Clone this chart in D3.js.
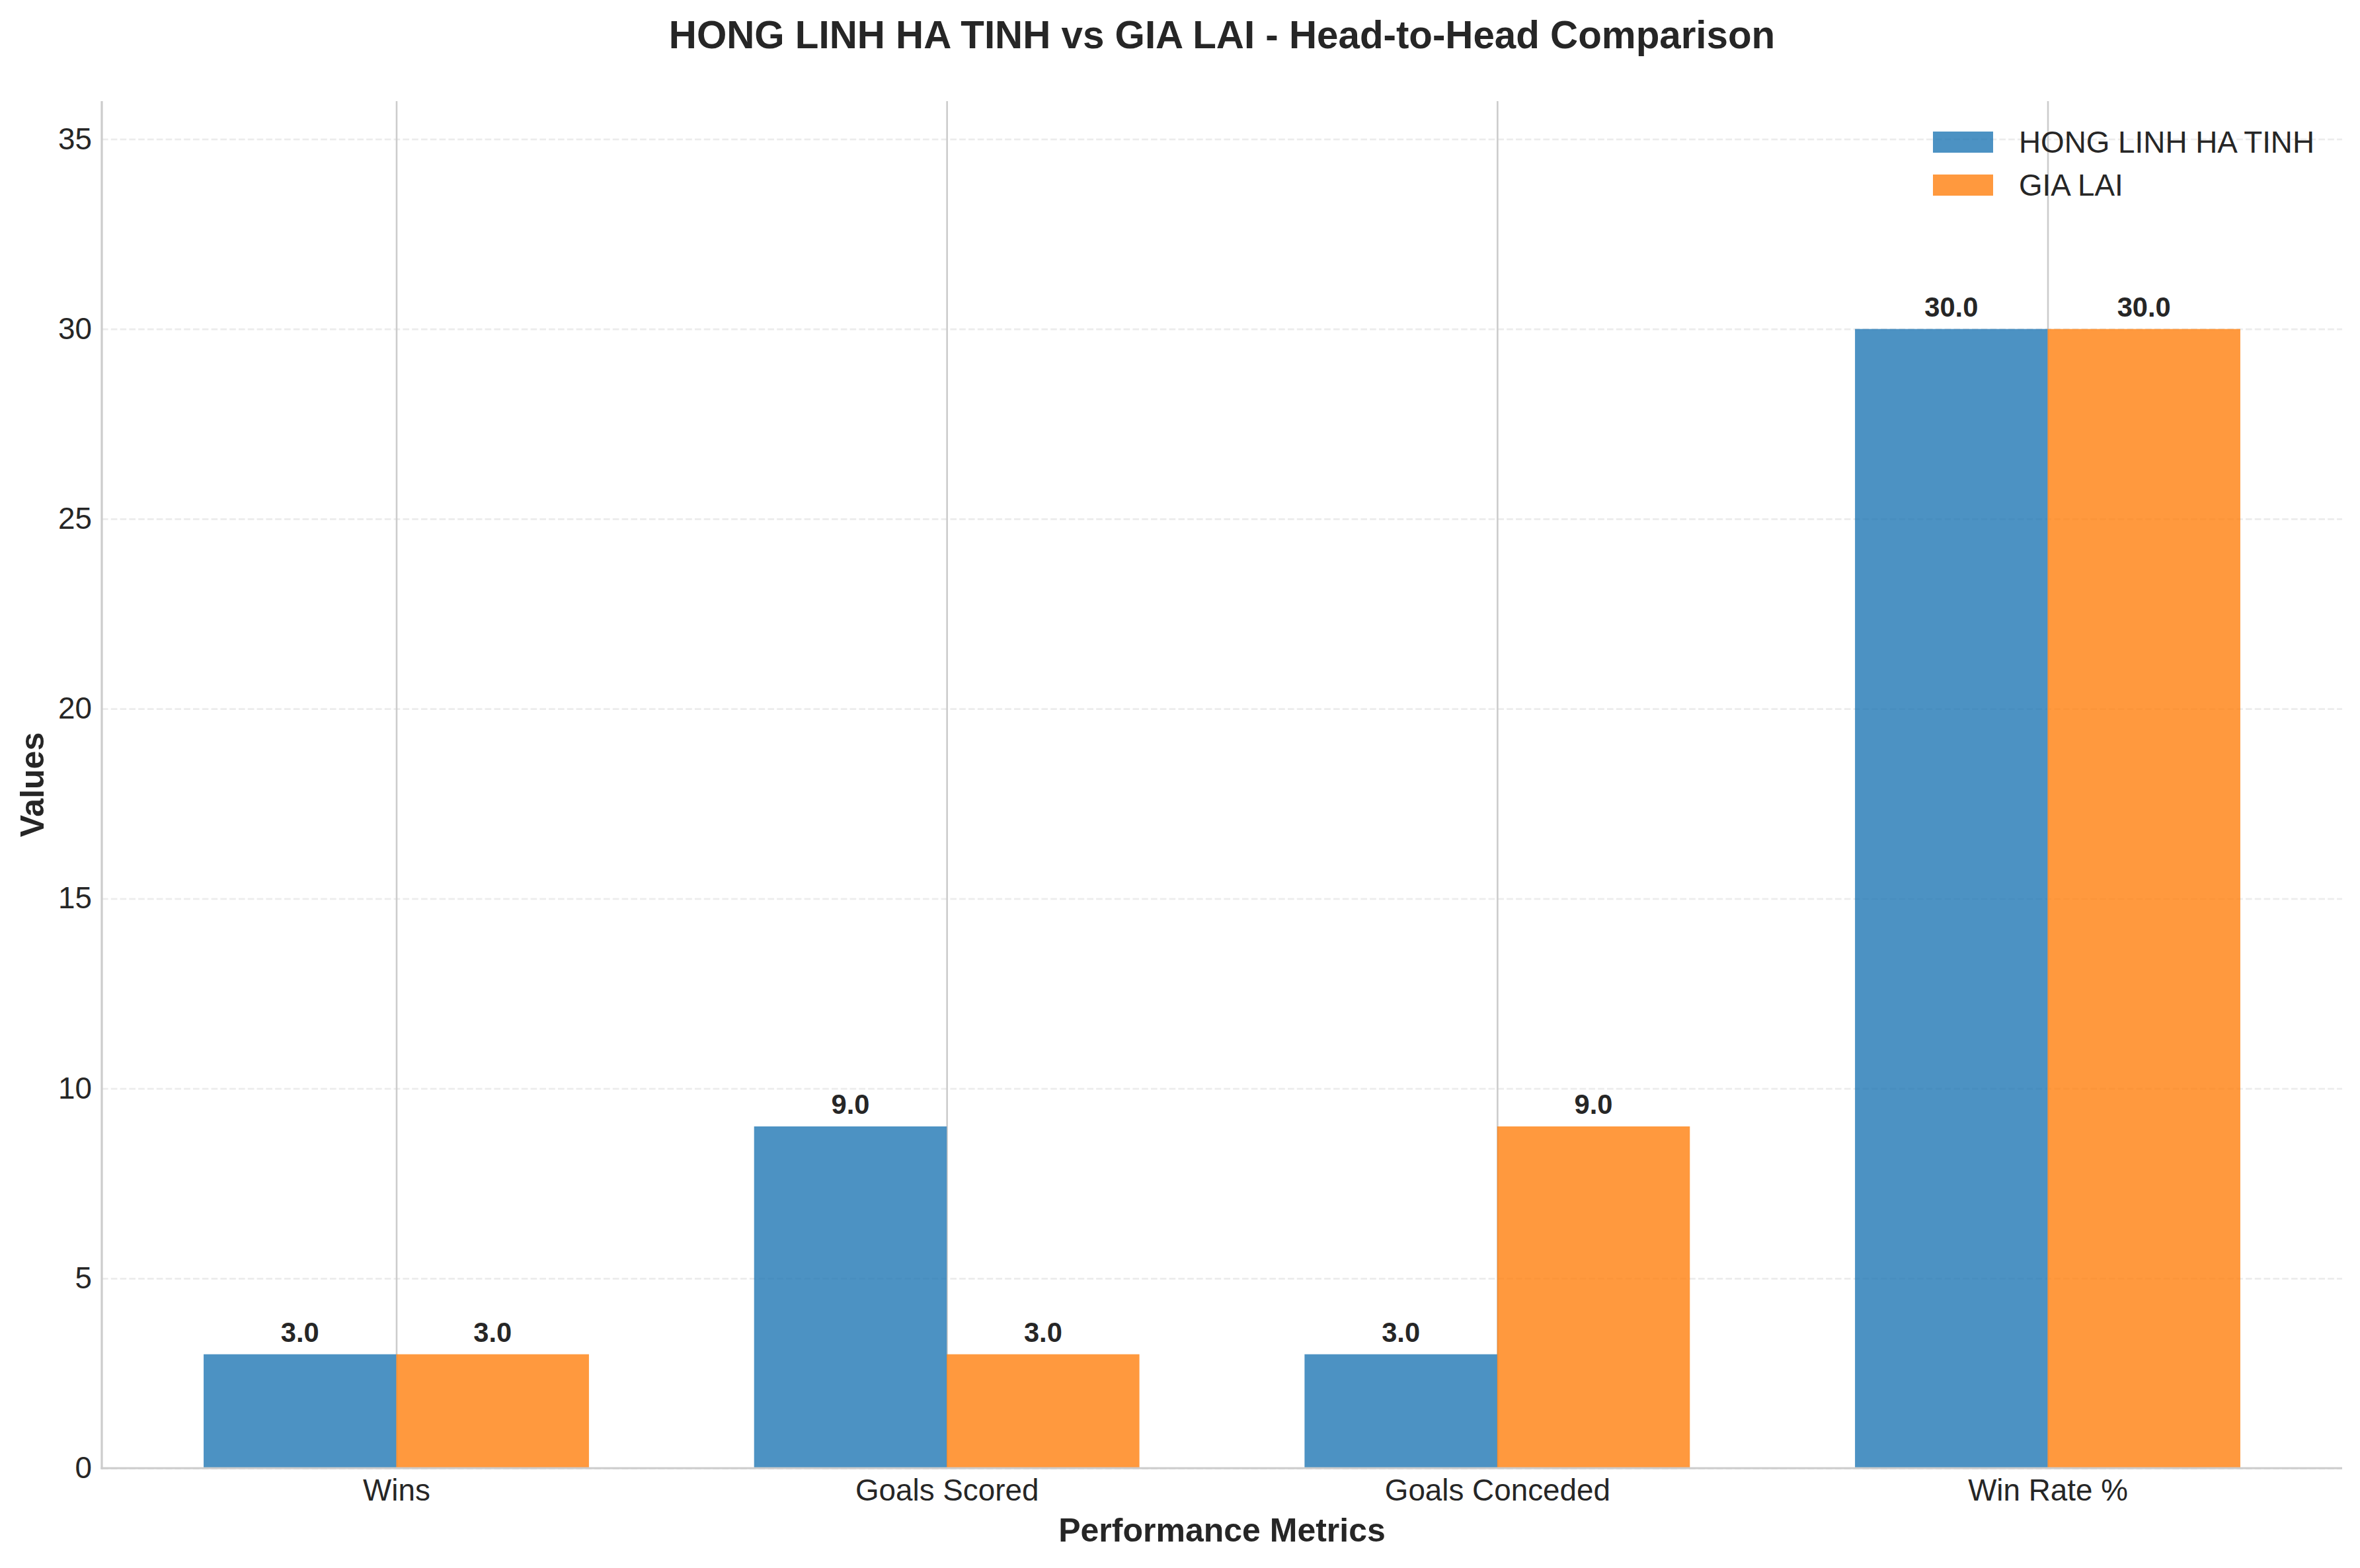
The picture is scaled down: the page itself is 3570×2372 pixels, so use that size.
<!DOCTYPE html>
<html>
<head>
<meta charset="utf-8">
<script src="https://cdn.jsdelivr.net/npm/d3@7"></script>
<style>
  html, body { margin: 0; padding: 0; background: #ffffff; }
  svg { display: block; }
  text { font-family: "Liberation Sans", Arial, Helvetica, sans-serif; fill: #262626; }
</style>
</head>
<body>
<svg id="chart" width="3570" height="2372"></svg>
<script>
// ---- data ----
const categories = ["Wins", "Goals Scored", "Goals Conceded", "Win Rate %"];
const seriesNames = ["HONG LINH HA TINH", "GIA LAI"];
const hongLinhValues = [3, 9, 3, 30];
const giaLaiValues = [3, 3, 9, 30];
const seriesColors = ["#1f77b4", "#ff7f0e"];
const yTicks = [0, 5, 10, 15, 20, 25, 30, 35];
const titleText = "HONG LINH HA TINH vs GIA LAI - Head-to-Head Comparison";
const xLabelText = "Performance Metrics";
const yLabelText = "Values";

const series = [hongLinhValues, giaLaiValues];
const barWidth = 0.35;

// ---- layout ----
const svg = d3.select("#chart");
const plot = { left: 154, right: 3543, top: 153, bottom: 2221 };

const n = categories.length;
const xMin = -barWidth - 0.05 * (n - 1 + 2 * barWidth);
const xMax = (n - 1) + barWidth + 0.05 * (n - 1 + 2 * barWidth);
const x = d3.scaleLinear().domain([xMin, xMax]).range([plot.left, plot.right]);
const yMax = d3.max(series.flat()) * 1.2;
const y = d3.scaleLinear().domain([0, yMax]).range([plot.bottom, plot.top]);

// horizontal dashed grid
const gy = svg.append("g")
  .attr("transform", `translate(${plot.left},0)`)
  .call(d3.axisLeft(y).tickValues(yTicks).tickSize(-(plot.right - plot.left)).tickFormat(""));
gy.select(".domain").remove();
gy.selectAll(".tick line")
  .attr("stroke", "#cccccc").attr("stroke-opacity", 0.38)
  .attr("stroke-width", 2.8).attr("stroke-dasharray", "9.6,4.2");

// vertical grid at category centers
const gx = svg.append("g")
  .attr("transform", `translate(0,${plot.bottom})`)
  .call(d3.axisBottom(x).tickValues(d3.range(n)).tickSize(-(plot.bottom - plot.top)).tickFormat(""));
gx.select(".domain").remove();
gx.selectAll(".tick line").attr("stroke", "#cccccc").attr("stroke-width", 2.6);

// bars
series.forEach((vals, s) => {
  const offset = s === 0 ? -barWidth : 0;
  svg.append("g").selectAll("rect")
    .data(vals)
    .join("rect")
    .attr("x", (d, i) => x(i + offset))
    .attr("width", (d, i) => x(i + offset + barWidth) - x(i + offset))
    .attr("y", d => y(d))
    .attr("height", d => y(0) - y(d))
    .attr("fill", seriesColors[s])
    .attr("fill-opacity", 0.8);

  svg.append("g").selectAll("text")
    .data(vals)
    .join("text")
    .attr("x", (d, i) => x(i + offset + barWidth / 2))
    .attr("y", d => y(d) - 19)
    .attr("text-anchor", "middle")
    .attr("font-size", 41.7)
    .attr("font-weight", "bold")
    .text(d => d.toFixed(1));
});

// spines
svg.append("line")
  .attr("x1", plot.left).attr("x2", plot.left)
  .attr("y1", plot.top).attr("y2", plot.bottom + 1.5)
  .attr("stroke", "#cccccc").attr("stroke-width", 3.2);
svg.append("line")
  .attr("x1", plot.left - 1.5).attr("x2", plot.right)
  .attr("y1", plot.bottom).attr("y2", plot.bottom)
  .attr("stroke", "#cccccc").attr("stroke-width", 3.2);

// y tick labels
const yAxis = svg.append("g")
  .attr("transform", `translate(${plot.left},0)`)
  .call(d3.axisLeft(y).tickValues(yTicks).tickSize(0).tickPadding(15).tickFormat(d3.format("d")));
yAxis.select(".domain").remove();
yAxis.selectAll("text")
  .attr("font-size", 45.8)
  .attr("font-family", "Liberation Sans, Arial, sans-serif")
  .attr("fill", "#262626");

// x tick labels
const xAxis = svg.append("g")
  .attr("transform", `translate(0,${plot.bottom})`)
  .call(d3.axisBottom(x).tickValues(d3.range(n)).tickSize(0).tickPadding(16).tickFormat(i => categories[i]));
xAxis.select(".domain").remove();
xAxis.selectAll("text")
  .attr("font-size", 45.8)
  .attr("font-family", "Liberation Sans, Arial, sans-serif")
  .attr("fill", "#262626");

// axis labels
svg.append("text")
  .attr("x", (plot.left + plot.right) / 2)
  .attr("y", 2332)
  .attr("text-anchor", "middle")
  .attr("font-size", 50)
  .attr("font-weight", "bold")
  .text(xLabelText);

svg.append("text")
  .attr("transform", `translate(66,${(plot.top + plot.bottom) / 2}) rotate(-90)`)
  .attr("text-anchor", "middle")
  .attr("font-size", 50)
  .attr("font-weight", "bold")
  .text(yLabelText);

// title
svg.append("text")
  .attr("x", (plot.left + plot.right) / 2)
  .attr("y", 73)
  .attr("text-anchor", "middle")
  .attr("font-size", 58.3)
  .attr("font-weight", "bold")
  .text(titleText);

// legend
const legend = svg.append("g");
seriesNames.forEach((name, s) => {
  const rowY = 215 + s * 65;
  legend.append("rect")
    .attr("x", 2924).attr("y", rowY - 16)
    .attr("width", 91).attr("height", 32)
    .attr("fill", seriesColors[s]).attr("fill-opacity", 0.8);
  legend.append("text")
    .attr("x", 3054).attr("y", rowY)
    .attr("dominant-baseline", "central")
    .attr("font-size", 45.8)
    .text(name);
});
</script>
</body>
</html>
